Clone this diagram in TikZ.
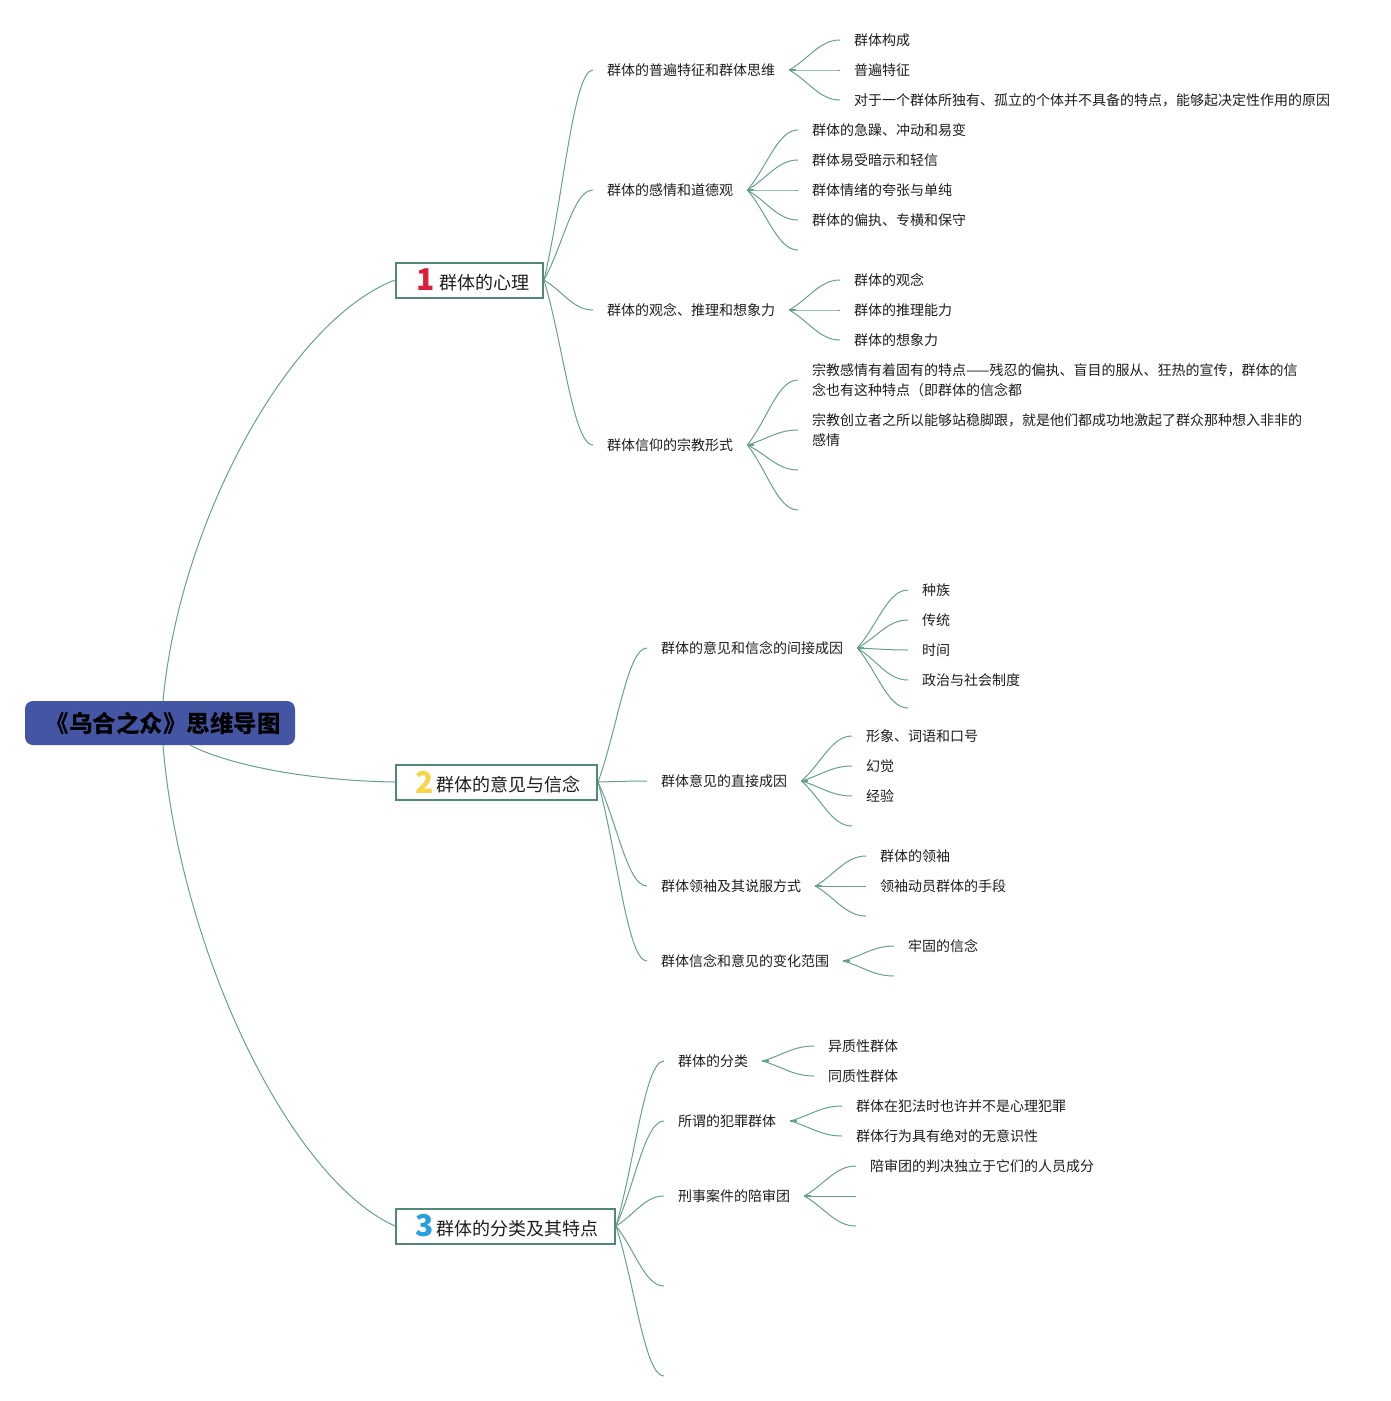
\documentclass[tikz,border=0pt]{standalone}
\usepackage{fontspec}
\setmainfont{Noto Sans CJK SC}
\usetikzlibrary{calc}
\definecolor{linkc}{RGB}{104,160,142}
\definecolor{boxc}{RGB}{82,136,120}
\definecolor{rootc}{RGB}{68,86,163}
\definecolor{txt}{RGB}{30,30,30}
\definecolor{nred}{RGB}{222,30,56}
\definecolor{nyel}{RGB}{248,212,70}
\definecolor{nblu}{RGB}{40,160,222}
\newcommand\lnk[2]{\draw[link] let \p1=(#1), \p2=(#2) in (\p1) .. controls ({\x1+0.4*(\x2-\x1)},{\y1+0.4*(\y2-\y1)}) and ({\x2-0.4*(\x2-\x1)},{\y2}) .. (\p2);}
\newcommand\stubat[1]{\draw[stub] (#1) -- ++(7,0);}
\newcommand\bnum[2]{\raisebox{-1.5pt}{\fontsize{30}{30}\selectfont\bfseries\color{#1}#2}}
\begin{document}
\begin{tikzpicture}[x=1pt,y=-1pt,
  link/.style={draw=linkc,line width=1pt},
  stub/.style={draw=linkc,line width=2.5pt},
  sub/.style={anchor=west,inner xsep=14pt,inner ysep=3pt,text=txt,font=\fontsize{14}{20}\selectfont,align=left},
  mainbox/.style={anchor=west,draw=boxc,line width=2pt,fill=white,inner sep=0pt,minimum height=35pt,text=txt,font=\fontsize{18}{18}\selectfont},
  rootbox/.style={fill=rootc,rounded corners=8pt,minimum width=270pt,minimum height=44pt,inner sep=0pt,text=black,font=\fontsize{23.5}{23.5}\selectfont\bfseries}]
\fill[white] (0,0) rectangle (1391,1401);
\useasboundingbox (0,0) rectangle (1391,1401);

% root and main topics
\node[rootbox] (root) at (160,723) {\hspace{6pt}《乌合之众》思维导图};
\node[mainbox] (m1) at (395,280) {\makebox[147pt][l]{\hspace{20pt}\bnum{nred}{1}\hspace{5pt}群体的心理}};
\node[mainbox] (m2) at (395,782) {\makebox[201pt][l]{\hspace{19pt}\bnum{nyel}{2}\hspace{3pt}群体的意见与信念}};
\node[mainbox] (m3) at (395,1226) {\makebox[219pt][l]{\hspace{19pt}\bnum{nblu}{3}\hspace{3pt}群体的分类及其特点}};

\draw[link] ($(root.north)+(3,0)$) .. controls (180,520) and (290,320) .. (m1.west);
\draw[link] ($(root.south)+(30,0)$) .. controls (235,768) and (320,781) .. (m2.west);
\draw[link] ($(root.south)+(3,0)$) .. controls (180,951) and (290,1179) .. (m3.west);

% section 1
\node[sub] (s11) at (593,70) {群体的普遍特征和群体思维};
\node[sub] (s12) at (593,190) {群体的感情和道德观};
\node[sub] (s13) at (593,310) {群体的观念、推理和想象力};
\node[sub] (s14) at (593,445) {群体信仰的宗教形式};
\foreach \s in {s11,s12,s13,s14} {\lnk{m1.east}{\s.west}}

\node[sub] (l111) at (840,40) {群体构成};
\node[sub] (l112) at (840,70) {普遍特征};
\node[sub] (l113) at (840,100) {对于一个群体所独有、孤立的个体并不具备的特点，能够起决定性作用的原因};
\foreach \l in {l111,l112,l113} {\lnk{s11.east}{\l.west}}
\stubat{s11.east}

\node[sub] (l121) at (798,130) {群体的急躁、冲动和易变};
\node[sub] (l122) at (798,160) {群体易受暗示和轻信};
\node[sub] (l123) at (798,190) {群体情绪的夸张与单纯};
\node[sub] (l124) at (798,220) {群体的偏执、专横和保守};
\coordinate (l125) at (798,250);
\foreach \l in {l121,l122,l123,l124} {\lnk{s12.east}{\l.west}}
\lnk{s12.east}{l125}
\stubat{s12.east}

\node[sub] (l131) at (840,280) {群体的观念};
\node[sub] (l132) at (840,310) {群体的推理能力};
\node[sub] (l133) at (840,340) {群体的想象力};
\foreach \l in {l131,l132,l133} {\lnk{s13.east}{\l.west}}
\stubat{s13.east}

\node[sub] (l141) at (798,380) {宗教感情有着固有的特点——残忍的偏执、盲目的服从、狂热的宣传，群体的信\\念也有这种特点（即群体的信念都};
\node[sub] (l142) at (798,430) {宗教创立者之所以能够站稳脚跟，就是他们都成功地激起了群众那种想入非非的\\感情};
\coordinate (l143) at (798,470);
\coordinate (l144) at (798,510);
\lnk{s14.east}{l141.west}
\lnk{s14.east}{l142.west}
\lnk{s14.east}{l143}
\lnk{s14.east}{l144}
\stubat{s14.east}

% section 2
\node[sub] (s21) at (647,648) {群体的意见和信念的间接成因};
\node[sub] (s22) at (647,781) {群体意见的直接成因};
\node[sub] (s23) at (647,886) {群体领袖及其说服方式};
\node[sub] (s24) at (647,961) {群体信念和意见的变化范围};
\foreach \s in {s21,s22,s23,s24} {\lnk{m2.east}{\s.west}}

\node[sub] (l211) at (908,590) {种族};
\node[sub] (l212) at (908,620) {传统};
\node[sub] (l213) at (908,650) {时间};
\node[sub] (l214) at (908,680) {政治与社会制度};
\coordinate (l215) at (908,708);
\foreach \l in {l211,l212,l213,l214} {\lnk{s21.east}{\l.west}}
\lnk{s21.east}{l215}
\stubat{s21.east}

\node[sub] (l221) at (852,736) {形象、词语和口号};
\node[sub] (l222) at (852,766) {幻觉};
\node[sub] (l223) at (852,796) {经验};
\coordinate (l224) at (852,826);
\foreach \l in {l221,l222,l223} {\lnk{s22.east}{\l.west}}
\lnk{s22.east}{l224}
\stubat{s22.east}

\node[sub] (l231) at (866,856) {群体的领袖};
\node[sub] (l232) at (866,886) {领袖动员群体的手段};
\coordinate (l233) at (866,916);
\lnk{s23.east}{l231.west}
\lnk{s23.east}{l232.west}
\lnk{s23.east}{l233}
\stubat{s23.east}

\node[sub] (l241) at (894,946) {牢固的信念};
\coordinate (l242) at (894,976);
\lnk{s24.east}{l241.west}
\lnk{s24.east}{l242}
\stubat{s24.east}

% section 3
\node[sub] (s31) at (664,1061) {群体的分类};
\node[sub] (s32) at (664,1121) {所谓的犯罪群体};
\node[sub] (s33) at (664,1196) {刑事案件的陪审团};
\coordinate (s34) at (664,1286);
\coordinate (s35) at (664,1376);
\foreach \s in {s31,s32,s33} {\lnk{m3.east}{\s.west}}
\lnk{m3.east}{s34}
\lnk{m3.east}{s35}

\node[sub] (l311) at (814,1046) {异质性群体};
\node[sub] (l312) at (814,1076) {同质性群体};
\lnk{s31.east}{l311.west}
\lnk{s31.east}{l312.west}
\stubat{s31.east}

\node[sub] (l321) at (842,1106) {群体在犯法时也许并不是心理犯罪};
\node[sub] (l322) at (842,1136) {群体行为具有绝对的无意识性};
\lnk{s32.east}{l321.west}
\lnk{s32.east}{l322.west}
\stubat{s32.east}

\node[sub] (l331) at (856,1166) {陪审团的判决独立于它们的人员成分};
\coordinate (l332) at (856,1196);
\coordinate (l333) at (856,1226);
\lnk{s33.east}{l331.west}
\lnk{s33.east}{l332}
\lnk{s33.east}{l333}
\stubat{s33.east}
\end{tikzpicture}
\end{document}
